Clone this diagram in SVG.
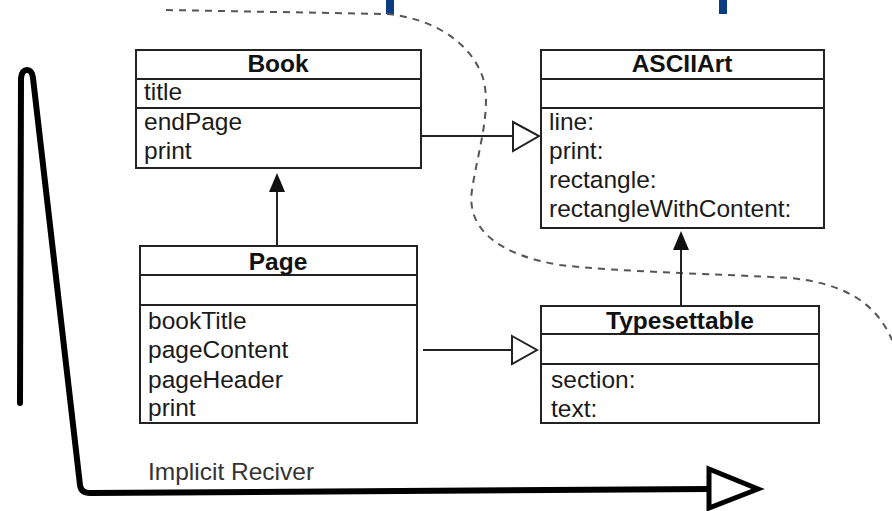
<svg xmlns="http://www.w3.org/2000/svg" width="892" height="511" viewBox="0 0 892 511">
  <style>
    .box { fill: #fff; stroke: #222; stroke-width: 2; }
    .div { stroke: #222; stroke-width: 2; }
    .hdr { font-family: "Liberation Sans", Arial, sans-serif; font-size: 24.5px; font-weight: bold; fill: #111; text-anchor: middle; }
    .item { font-family: "Liberation Sans", Arial, sans-serif; font-size: 24.5px; fill: #1a1a1a; }
    .conn { stroke: #222; stroke-width: 2; fill: none; }
    .hollow { fill: #fff; stroke: #222; stroke-width: 2; }
    .filled { fill: #111; stroke: none; }
    .boundary { fill: none; stroke: #555; stroke-width: 2; stroke-dasharray: 7 6; }
    .flow { fill: none; stroke: #000; stroke-width: 6; stroke-linejoin: round; stroke-linecap: round; }
    .label { font-family: "Liberation Sans", Arial, sans-serif; font-size: 24.5px; fill: #333; }
  </style>

  <rect width="892" height="511" fill="#fff"/>

  <!-- blue marks along the top edge -->
  <rect x="386" y="0" width="8" height="14" fill="#0b3b83"/>
  <rect x="719" y="0" width="8" height="14" fill="#0b3b83"/>

  <!-- dashed boundary -->
  <path class="boundary" d="M166,10 L387,14 C430,18 470,40 483,78 C492,110 478,150 472,190 C466,230 500,255 560,265 C620,272 720,274 790,278 C840,283 875,300 892,340"/>

  <!-- implicit receiver flow -->
  <g id="implicit-receiver">
    <path class="flow" d="M20,403 L21,78 Q22,70 27,70 Q32,70 33,78 L80,485 Q81,493 90,493 L710,489"/>
    <polygon points="709,469 758,489 709,508" fill="#fff" stroke="#000" stroke-width="5" stroke-linejoin="miter"/>
    <text class="label" x="148" y="480">Implicit Reciver</text>
  </g>

  <!-- connectors -->
  <g id="connectors">
    <line class="conn" x1="421" y1="136" x2="513" y2="136"/>
    <polygon class="hollow" points="513,122 539,136 513,151"/>
    <line class="conn" x1="423" y1="350" x2="512" y2="350"/>
    <polygon class="hollow" points="512,336 537,350 512,364"/>
    <line class="conn" x1="277" y1="246" x2="277" y2="190"/>
    <polygon class="filled" points="277,173 285,192 269,192"/>
    <line class="conn" x1="681" y1="306" x2="681" y2="248"/>
    <polygon class="filled" points="681,231 689,250 673,250"/>
  </g>

  <g id="Book">
    <rect class="box" x="136" y="50" width="285" height="118"/>
    <line class="div" x1="136" y1="79" x2="421" y2="79"/>
    <line class="div" x1="136" y1="108" x2="421" y2="108"/>
    <text class="hdr" x="278" y="72">Book</text>
    <text class="item" x="144" y="100">title</text>
    <text class="item" x="144" y="130">endPage</text>
    <text class="item" x="144" y="159">print</text>
  </g>

  <g id="ASCIIArt">
    <rect class="box" x="541" y="50" width="283" height="178"/>
    <line class="div" x1="541" y1="79" x2="824" y2="79"/>
    <line class="div" x1="541" y1="108" x2="824" y2="108"/>
    <text class="hdr" x="682" y="72">ASCIIArt</text>
    <text class="item" x="549" y="130">line:</text>
    <text class="item" x="549" y="159">print:</text>
    <text class="item" x="549" y="188">rectangle:</text>
    <text class="item" x="549" y="217">rectangleWithContent:</text>
  </g>

  <g id="Page">
    <rect class="box" x="140" y="246" width="277" height="177"/>
    <line class="div" x1="140" y1="275" x2="417" y2="275"/>
    <line class="div" x1="140" y1="305" x2="417" y2="305"/>
    <text class="hdr" x="278" y="270">Page</text>
    <text class="item" x="148" y="329">bookTitle</text>
    <text class="item" x="148" y="358">pageContent</text>
    <text class="item" x="148" y="388">pageHeader</text>
    <text class="item" x="148" y="416">print</text>
  </g>

  <g id="Typesettable">
    <rect class="box" x="541" y="306" width="278" height="117"/>
    <line class="div" x1="541" y1="334" x2="819" y2="334"/>
    <line class="div" x1="541" y1="364" x2="819" y2="364"/>
    <text class="hdr" x="680" y="329">Typesettable</text>
    <text class="item" x="551" y="388">section:</text>
    <text class="item" x="551" y="417">text:</text>
  </g>
</svg>
